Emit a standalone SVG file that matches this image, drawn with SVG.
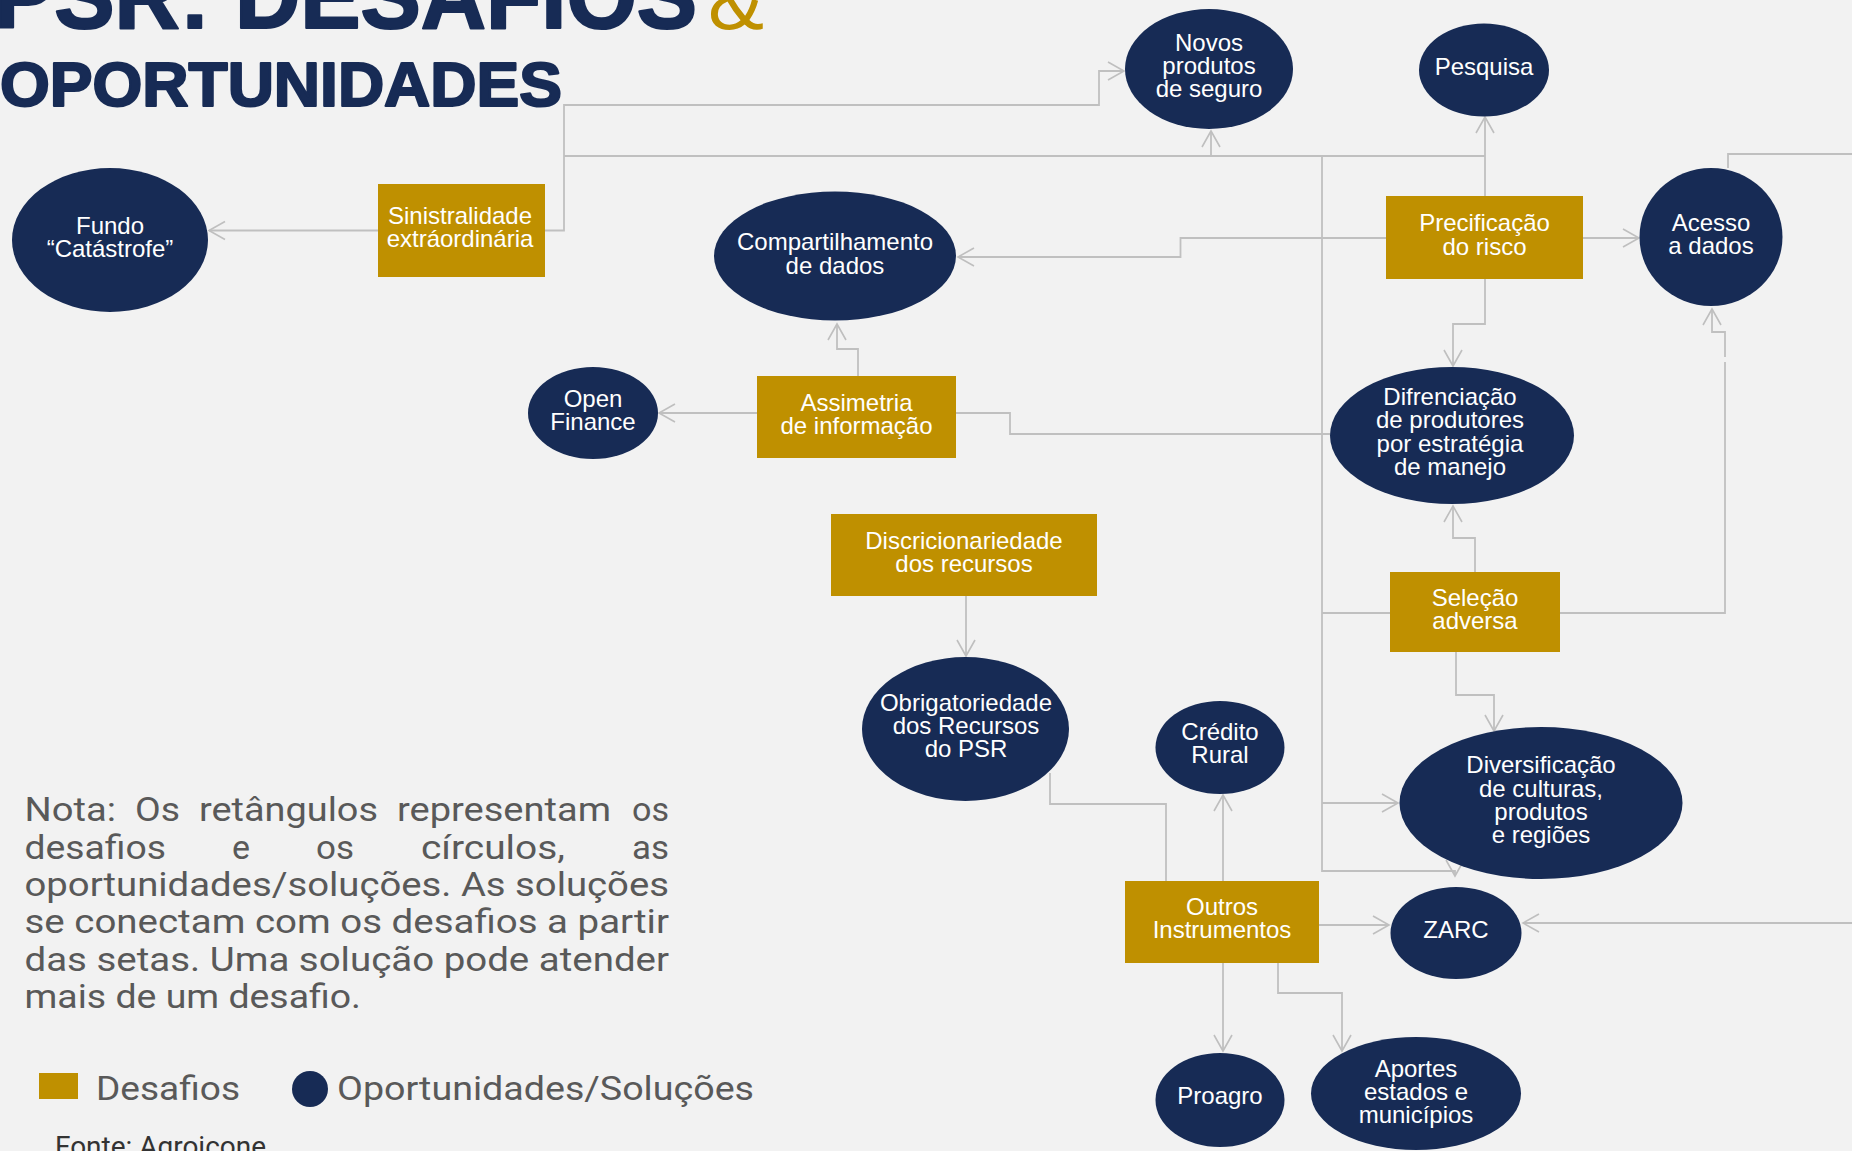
<svg xmlns="http://www.w3.org/2000/svg" width="1852" height="1151" viewBox="0 0 1852 1151">
<style>
.bg{fill:#f2f2f2}
.opp{fill:#172b55}
.ch{fill:#bf9000}
.lbl{font-family:"Liberation Sans",Arial,sans-serif;font-size:24px;fill:#ffffff;text-anchor:middle}
.con{fill:none;stroke:#c0c0c0;stroke-width:1.8}
.arr{marker-end:url(#ah)}
.title{font-family:"Liberation Sans",Arial,sans-serif;font-weight:bold;fill:#172b55;stroke:#172b55;stroke-width:2.2;stroke-linejoin:round}
.note{font-family:Roboto,"Liberation Sans",sans-serif;font-size:33px;fill:#595959}
</style>
<defs>
<marker id="ah" markerUnits="userSpaceOnUse" markerWidth="24" markerHeight="24" viewBox="-18 -12 20 24" refX="0" refY="0" orient="auto" overflow="visible">
<path d="M-16,-9 L0,0 L-16,9" fill="none" stroke="#bfbfbf" stroke-width="1.6"/>
</marker>
</defs>
<rect class="bg" x="0" y="0" width="1852" height="1151"/>

<g id="title">
<text class="title" x="-6" y="28" font-size="92" textLength="703" lengthAdjust="spacingAndGlyphs">PSR: DESAFIOS</text>
<text x="708" y="29" font-family="Liberation Sans,Arial,sans-serif" font-size="84" fill="#bf9000">&amp;</text>
<text class="title" x="0" y="106" font-size="63" textLength="562" lengthAdjust="spacingAndGlyphs">OPORTUNIDADES</text>
</g>

<g id="connectors">
<path class="con arr" d="M378,230.5 H209"/>
<path class="con arr" d="M545,230.5 H564 V105 H1099 V71 H1124"/>
<path class="con" d="M564,156 H1485"/>
<path class="con arr" d="M1211,156 V131"/>
<path class="con arr" d="M1485,196 V117"/>
<path class="con arr" d="M1322,155 V871 H1455 V876"/>
<path class="con arr" d="M1386,238 H1180.5 V257 H958"/>
<path class="con arr" d="M1583,238 H1639"/>
<path class="con" d="M1728,168 V154 H1852"/>
<path class="con arr" d="M1852,923 H1523"/>
<path class="con arr" d="M1485,279 V324 H1453 V366"/>
<path class="con arr" d="M1475,572 V538 H1453 V506"/>
<path class="con" d="M1560,613 H1725 V362"/>
<path class="con arr" d="M1725,357 V332 H1712 V309"/>
<path class="con" d="M1390,613 H1322"/>
<path class="con arr" d="M1456,652 V695 H1494 V731"/>
<path class="con arr" d="M858,376 V349 H837 V324"/>
<path class="con arr" d="M757,413 H659"/>
<path class="con" d="M956,413 H1010 V434 H1330"/>
<path class="con arr" d="M966,596 V656"/>
<path class="con" d="M1050,773 V804 H1166 V881"/>
<path class="con arr" d="M1223,881 V795"/>
<path class="con arr" d="M1322,803 H1398"/>
<path class="con arr" d="M1319,925 H1389"/>
<path class="con arr" d="M1223,963 V1051"/>
<path class="con arr" d="M1278,963 V993 H1342 V1051"/>
</g>

<g id="fundo">
<ellipse class="opp" cx="110" cy="240" rx="98" ry="72"/>
<text class="lbl" x="110" y="233.5">Fundo</text>
<text class="lbl" x="110" y="256.5">“Catástrofe”</text>
</g>
<g id="sinistralidade">
<rect class="ch" x="378" y="184" width="167" height="93"/>
<text class="lbl" x="460" y="224">Sinistralidade</text>
<text class="lbl" x="460" y="247">extráordinária</text>
</g>
<g id="novos">
<ellipse class="opp" cx="1209" cy="69" rx="84" ry="60"/>
<text class="lbl" x="1209" y="51">Novos</text>
<text class="lbl" x="1209" y="74">produtos</text>
<text class="lbl" x="1209" y="97">de seguro</text>
</g>
<g id="pesquisa">
<ellipse class="opp" cx="1484" cy="70" rx="65" ry="46.5"/>
<text class="lbl" x="1484" y="75">Pesquisa</text>
</g>
<g id="compartilhamento">
<ellipse class="opp" cx="835" cy="256" rx="121" ry="64.5"/>
<text class="lbl" x="835" y="250">Compartilhamento</text>
<text class="lbl" x="835" y="273.5">de dados</text>
</g>
<g id="precificacao">
<rect class="ch" x="1386" y="196" width="197" height="83"/>
<text class="lbl" x="1484.5" y="231">Precificação</text>
<text class="lbl" x="1484.5" y="254.5">do risco</text>
</g>
<g id="acesso">
<ellipse class="opp" cx="1711" cy="237" rx="71.5" ry="69"/>
<text class="lbl" x="1711" y="230.5">Acesso</text>
<text class="lbl" x="1711" y="254">a dados</text>
</g>
<g id="assimetria">
<rect class="ch" x="757" y="376" width="199" height="82"/>
<text class="lbl" x="856.5" y="410.5">Assimetria</text>
<text class="lbl" x="856.5" y="433.5">de informação</text>
</g>
<g id="openfinance">
<ellipse class="opp" cx="593" cy="413" rx="65" ry="46"/>
<text class="lbl" x="593" y="406.5">Open</text>
<text class="lbl" x="593" y="430">Finance</text>
</g>
<g id="difrenciacao">
<ellipse class="opp" cx="1452" cy="435.5" rx="122" ry="68.5"/>
<text class="lbl" x="1450" y="405">Difrenciação</text>
<text class="lbl" x="1450" y="428">de produtores</text>
<text class="lbl" x="1450" y="452">por estratégia</text>
<text class="lbl" x="1450" y="475">de manejo</text>
</g>
<g id="discricionariedade">
<rect class="ch" x="831" y="514" width="266" height="82"/>
<text class="lbl" x="964" y="548.5">Discricionariedade</text>
<text class="lbl" x="964" y="571.5">dos recursos</text>
</g>
<g id="selecao">
<rect class="ch" x="1390" y="572" width="170" height="80"/>
<text class="lbl" x="1475" y="605.5">Seleção</text>
<text class="lbl" x="1475" y="628.5">adversa</text>
</g>
<g id="obrigatoriedade">
<ellipse class="opp" cx="965.5" cy="729" rx="103.5" ry="72"/>
<text class="lbl" x="966" y="711">Obrigatoriedade</text>
<text class="lbl" x="966" y="734">dos Recursos</text>
<text class="lbl" x="966" y="757">do PSR</text>
</g>
<g id="credito">
<ellipse class="opp" cx="1220" cy="747.5" rx="64.5" ry="46.5"/>
<text class="lbl" x="1220" y="740">Crédito</text>
<text class="lbl" x="1220" y="763">Rural</text>
</g>
<g id="diversificacao">
<ellipse class="opp" cx="1541" cy="803" rx="141.5" ry="76"/>
<text class="lbl" x="1541" y="773">Diversificação</text>
<text class="lbl" x="1541" y="797">de culturas,</text>
<text class="lbl" x="1541" y="820">produtos</text>
<text class="lbl" x="1541" y="843">e regiões</text>
</g>
<g id="outros">
<rect class="ch" x="1125" y="881" width="194" height="82"/>
<text class="lbl" x="1222" y="915">Outros</text>
<text class="lbl" x="1222" y="938">Instrumentos</text>
</g>
<g id="zarc">
<ellipse class="opp" cx="1456" cy="933" rx="65.5" ry="46"/>
<text class="lbl" x="1456" y="938">ZARC</text>
</g>
<g id="proagro">
<ellipse class="opp" cx="1220" cy="1100" rx="64.5" ry="47"/>
<text class="lbl" x="1220" y="1104">Proagro</text>
</g>
<g id="aportes">
<ellipse class="opp" cx="1416" cy="1093.5" rx="105" ry="56.5"/>
<text class="lbl" x="1416" y="1077">Aportes</text>
<text class="lbl" x="1416" y="1100">estados e</text>
<text class="lbl" x="1416" y="1123">municípios</text>
</g>

<g id="nota">
<text class="note" x="24.5" y="821" textLength="91.5" lengthAdjust="spacingAndGlyphs">Nota:</text>
<text class="note" x="135" y="821" textLength="45" lengthAdjust="spacingAndGlyphs">Os</text>
<text class="note" x="199" y="821" textLength="179" lengthAdjust="spacingAndGlyphs">retângulos</text>
<text class="note" x="397" y="821" textLength="214" lengthAdjust="spacingAndGlyphs">representam</text>
<text class="note" x="632" y="821" textLength="37" lengthAdjust="spacingAndGlyphs">os</text>
<text class="note" x="24.5" y="858.5" textLength="141.5" lengthAdjust="spacingAndGlyphs">desafios</text>
<text class="note" x="232" y="858.5" textLength="18" lengthAdjust="spacingAndGlyphs">e</text>
<text class="note" x="316" y="858.5" textLength="38" lengthAdjust="spacingAndGlyphs">os</text>
<text class="note" x="421" y="858.5" textLength="144" lengthAdjust="spacingAndGlyphs">círculos,</text>
<text class="note" x="632" y="858.5" textLength="37" lengthAdjust="spacingAndGlyphs">as</text>
<text class="note" x="24.5" y="896" textLength="644.5" lengthAdjust="spacingAndGlyphs">oportunidades/soluções. As soluções</text>
<text class="note" x="24.5" y="933" textLength="644.5" lengthAdjust="spacingAndGlyphs">se conectam com os desafios a partir</text>
<text class="note" x="24.5" y="970.5" textLength="644.5" lengthAdjust="spacingAndGlyphs">das setas. Uma solução pode atender</text>
<text class="note" x="24.5" y="1008" textLength="336.5" lengthAdjust="spacingAndGlyphs">mais de um desafio.</text>
</g>

<g id="legend">
<rect class="ch" x="39" y="1073" width="39" height="26"/>
<text class="note" x="96" y="1100" font-size="35" textLength="144" lengthAdjust="spacingAndGlyphs">Desafios</text>
<ellipse class="opp" cx="310" cy="1089" rx="18" ry="18"/>
<text class="note" x="337" y="1100" font-size="35" textLength="417" lengthAdjust="spacingAndGlyphs">Oportunidades/Soluções</text>
<text x="55" y="1156" font-family="Roboto,'Liberation Sans',sans-serif" font-size="28" fill="#333333" textLength="211" lengthAdjust="spacingAndGlyphs">Fonte: Agroicone</text>
</g>
</svg>
